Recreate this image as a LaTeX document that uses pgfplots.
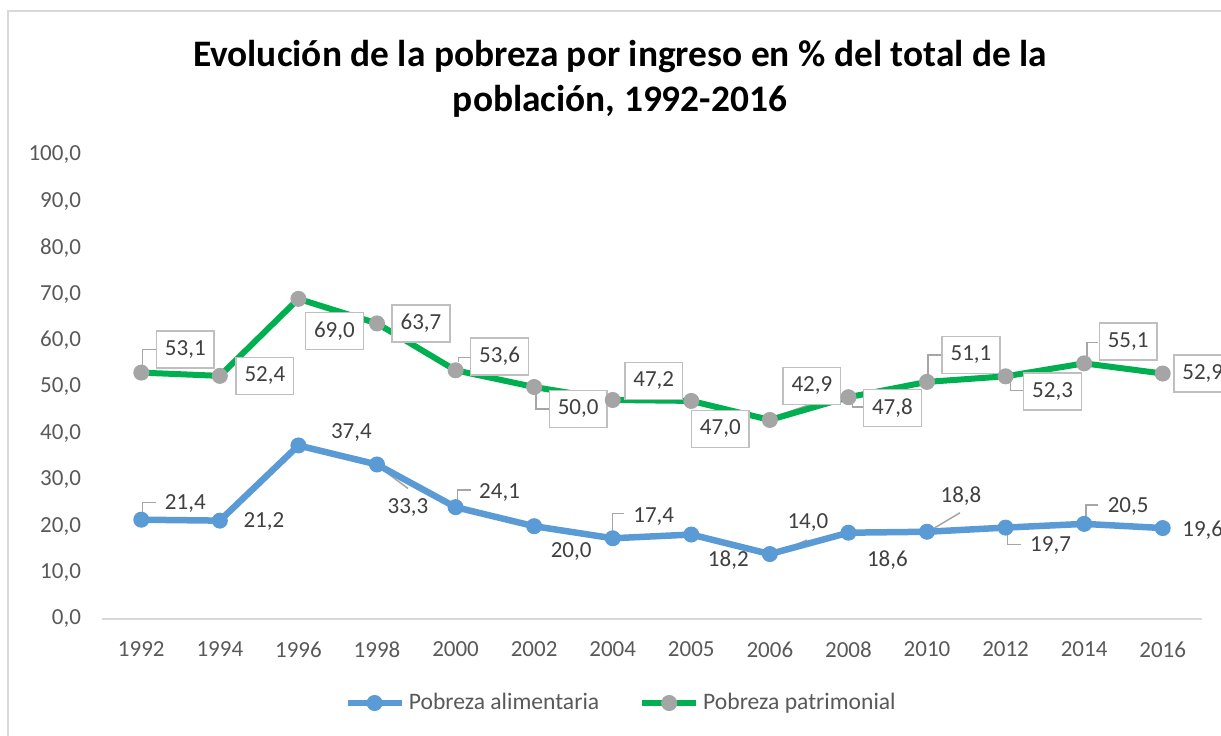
\documentclass[border=0pt]{standalone}
\usepackage{pgfplots}
\pgfplotsset{compat=1.18}
\usepackage{pgfplotstable}
\usepackage{fontspec}
\setmainfont{Carlito}
\definecolor{cblue}{HTML}{5B9BD5}
\definecolor{cgreen}{HTML}{00B050}
\definecolor{cgray}{HTML}{A5A5A5}
\definecolor{ctext}{HTML}{404040}
\definecolor{ctick}{HTML}{595959}
\definecolor{cbox}{HTML}{BFBFBF}
\definecolor{cleader}{HTML}{A6A6A6}
\definecolor{caxis}{HTML}{D9D9D9}
\pgfplotstableread{
x y dx dy
0 21.4 22 8
1 21.2 22 -0.5
2 37.4 26.5 6.5
3 33.3 15.5 -21.5
4 24.1 22 7.5
5 20.0 18.5 -12.5
6 17.4 20.5 11
7 18.2 18.5 -13
8 14.0 19 16
9 18.6 19.5 -13.5
10 18.8 17 18
11 19.7 22.5 -9
12 20.5 22 8.5
13 19.6 20 -1
}\alim
\pgfplotstableread{
x y dx dy
0 53.1 22 11.5
1 52.4 22.5 0
2 69.0 18 -16
3 63.7 22 0
4 53.6 22 7
5 50.0 22 -11
6 47.2 20.5 9.5
7 47.0 14.5 -14
8 42.9 21 17
9 47.8 22 -5.5
10 51.1 22 13.5
11 52.3 23.5 -7.5
12 55.1 22 11
13 52.9 20 0
}\patr
\newcommand\ldrA[5]{\draw[cleader,line width=0.75pt] ([shift={(#3)}]axis cs:#1,#2) -- ([shift={(#4)}]axis cs:#1,#2) -- ([shift={(#5)}]axis cs:#1,#2);}
\newcommand\ldrB[4]{\draw[cleader,line width=0.75pt] ([shift={(#3)}]axis cs:#1,#2) -- ([shift={(#4)}]axis cs:#1,#2);}
\newcommand\lblfont{\fontsize{11.5}{13}\selectfont}
\begin{document}
\begin{tikzpicture}
\begin{axis}[
  at={(0,0)}, anchor=south west,
  scale only axis, width=550pt, height=232pt,
  xmin=-0.5, xmax=13.5, ymin=0, ymax=100,
  clip=false,
  ytick={0,10,...,100},
  xtick={0,...,13},
  xticklabels={1992,1994,1996,1998,2000,2002,2004,2005,2006,2008,2010,2012,2014,2016},
  axis x line*=bottom, axis y line*=left,
  x axis line style={draw=caxis, line width=0.75pt, -},
  y axis line style={draw=none},
  major tick length=0pt,
  tick style={draw=none},
  yticklabel={\pgfmathprintnumber[fixed,fixed zerofill,precision=1,use comma,assume math mode=true]{\tick}},
  yticklabel style={font=\lblfont, text=ctick, xshift=-7pt},
  xticklabel style={font=\lblfont, text=ctick, yshift=-8pt},
  title={Evolución de la pobreza por ingreso en \% del total de la\\población, 1992-2016},
  title style={font=\bfseries\fontsize{18.7}{22.5}\selectfont, align=center, at={(0.5,1)}, anchor=center, yshift=32pt, xshift=-16pt, text=black},
  legend style={at={(0.5,0)}, anchor=center, yshift=-42pt, xshift=-15pt, draw=none, font=\fontsize{11.8}{13}\selectfont, text=ctick,
    /tikz/every even column/.append style={column sep=18pt}},
  legend columns=2,
  legend image code/.code={\draw[#1, mark repeat=2, mark phase=2] plot coordinates {(0pt,0pt) (13.5pt,0pt) (27pt,0pt)};},
]
% leader lines
\ldrA{0}{53.1}{0.5pt,4pt}{0.5pt,11.5pt}{7.5pt,11.5pt}
\ldrB{2}{69.0}{1pt,-0.5pt}{17.5pt,-6.5pt}
\ldrA{4}{53.6}{1.5pt,4pt}{1.5pt,6.5pt}{8pt,6.5pt}
\ldrA{5}{50.0}{1pt,-1pt}{1pt,-11pt}{7.5pt,-11pt}
\ldrB{8}{42.9}{0.5pt,1pt}{19.5pt,7.5pt}
\ldrA{9}{47.8}{2pt,-0.5pt}{2pt,-5pt}{7.5pt,-5pt}
\ldrA{10}{51.1}{0.5pt,2.5pt}{0.5pt,13.5pt}{7.5pt,13.5pt}
\ldrA{11}{52.3}{2.5pt,0pt}{2.5pt,-7pt}{9pt,-7pt}
\ldrA{12}{55.1}{1.5pt,0pt}{1.5pt,10.5pt}{7pt,10.5pt}
\ldrA{0}{21.4}{0.5pt,1pt}{0.5pt,8.5pt}{7.5pt,8.5pt}
\ldrB{3}{33.3}{0pt,-0.5pt}{15.5pt,-12pt}
\ldrA{4}{24.1}{1pt,1pt}{1pt,8.5pt}{7.5pt,8.5pt}
\ldrA{6}{17.4}{0pt,0pt}{0pt,12.5pt}{5.5pt,12.5pt}
\ldrB{8}{14.0}{1.5pt,-0.5pt}{18.5pt,7pt}
\ldrB{10}{18.8}{0.5pt,0pt}{16.5pt,9.5pt}
\ldrA{11}{19.7}{1pt,0pt}{1pt,-8.5pt}{7.5pt,-8.5pt}
\ldrA{12}{20.5}{1pt,0pt}{1pt,9.5pt}{7pt,9.5pt}
\addplot[color=cblue, line width=3.25pt, mark=*, mark size=3.75pt,
  mark options={fill=cblue, draw=cblue, line width=0.5pt},
  point meta=\thisrow{y},
  visualization depends on={\thisrow{dx}\as\dx},
  visualization depends on={\thisrow{dy}\as\dy},
  nodes near coords={\pgfmathprintnumber[fixed,fixed zerofill,precision=1,use comma,assume math mode=true]{\pgfplotspointmeta}},
  every node near coord/.append style={anchor=center, font=\lblfont, text=ctext, inner sep=0pt, xshift=\dx pt, yshift=\dy pt},
] table[x=x, y=y]{\alim};
\addlegendentry{Pobreza alimentaria}
\addplot[color=cgreen, line width=3pt, mark=*, mark size=3.75pt,
  mark options={fill=cgray, draw=cgray, line width=0.5pt},
  point meta=\thisrow{y},
  visualization depends on={\thisrow{dx}\as\dx},
  visualization depends on={\thisrow{dy}\as\dy},
  nodes near coords={\pgfmathprintnumber[fixed,fixed zerofill,precision=1,use comma,assume math mode=true]{\pgfplotspointmeta}},
  every node near coord/.append style={anchor=center, font=\lblfont, text=ctext, draw=cbox, fill=white, line width=0.75pt, inner xsep=4.25pt, inner ysep=0pt, minimum height=18.5pt, xshift=\dx pt, yshift=\dy pt},
] table[x=x, y=y]{\patr};
\addlegendentry{Pobreza patrimonial}
\end{axis}
\draw[caxis, line width=0.75pt] (-47pt,-90pt) rectangle (620pt,304pt);
\pgfresetboundingbox
\path (-51pt,-58pt) rectangle (559.5pt,309.5pt);
\end{tikzpicture}
\end{document}
